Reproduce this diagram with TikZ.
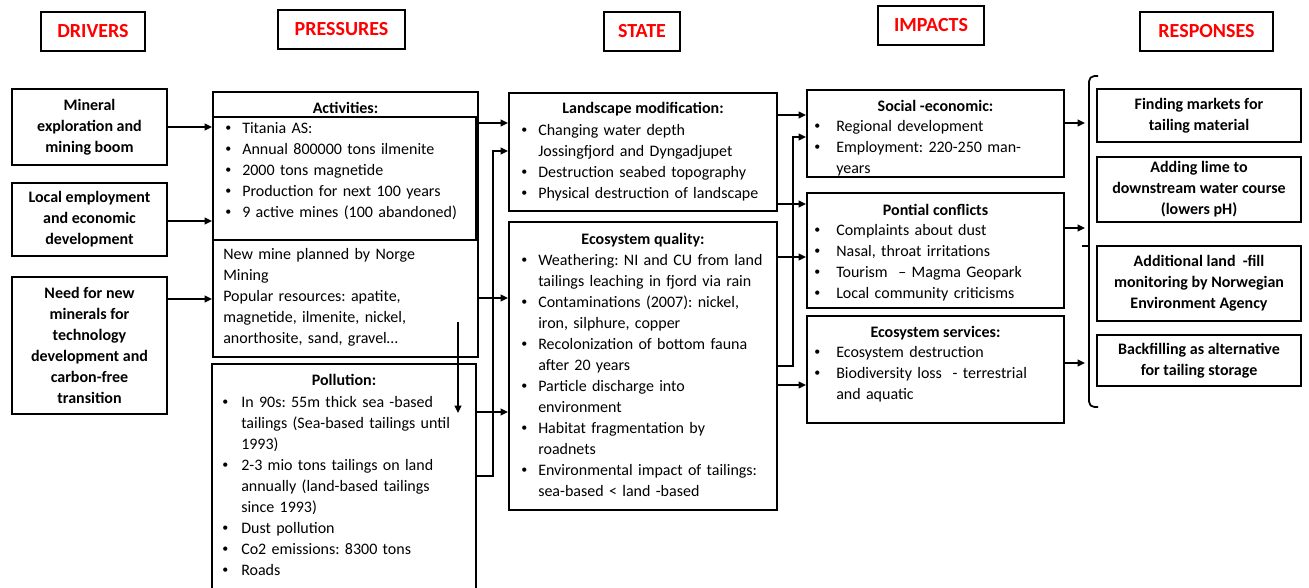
\documentclass[tikz,border=0pt]{standalone}
\usepackage{fontspec}
\setmainfont{Carlito}
\usetikzlibrary{arrows.meta}
\frenchspacing

% small bullet, and a bulleted line with a given hanging width, and a continuation line
\newcommand{\smallbul}{\raisebox{0.12em}{\fontsize{9}{9}\selectfont\textbullet}}
\newcommand{\bit}[2]{\noindent\makebox[#1][l]{\smallbul}#2\par}
\newcommand{\ctn}[2]{\noindent\hspace*{#1}#2\par}

\begin{document}
\begin{tikzpicture}[x=0.75pt,y=-0.75pt,
  box/.style={draw, line width=1.4pt, rectangle, inner sep=0pt},
  sz/.style 2 args={minimum width=#1*0.75pt, minimum height=#2*0.75pt},
  hdr/.style={box, line width=1.5pt, text=red, font=\fontsize{15}{18}\selectfont\bfseries},
  drv/.style={align=center, font=\fontsize{12}{15.75}\selectfont\bfseries},
  lst/.style={anchor=base west, inner sep=0pt, text width=#1*0.75pt, font=\fontsize{12}{15.75}\selectfont},
  ttl/.style={anchor=base, inner sep=0pt, font=\fontsize{12}{15.75}\selectfont\bfseries},
  arr/.style={line width=1.3pt, -{Triangle[length=5.5pt,width=5pt]}},
  ln/.style={line width=1.3pt}]

\useasboundingbox (0,0) rectangle (1309,587);
\clip (0,0) rectangle (1309,587);

% ---------- column headers ----------
\node[hdr, sz={104}{39}] (hD) at (93,31.5)    {DRIVERS};
\node[hdr, sz={127}{39}] (hP) at (341.5,29.5) {PRESSURES};
\node[hdr, sz={76}{39}]  (hS) at (642,31.5)   {STATE};
\node[hdr, sz={106}{39}] (hI) at (931,25.5)   {IMPACTS};
\node[hdr, sz={133}{39}] (hR) at (1206.5,31.5){RESPONSES};

% ---------- drivers ----------
\node[box, drv, sz={155}{76}]  (d1) at (89.5,127)   {Mineral\\exploration and\\mining boom};
\node[box, drv, sz={155}{73}]  (d2) at (89.5,219.5) {Local employment\\and economic\\development};
\node[box, drv, sz={155}{137}] (d3) at (89.5,345.5) {Need for new\\minerals for\\technology\\development and\\carbon-free\\transition};

% ---------- pressures ----------
\node[box, sz={265}{265}] (act) at (345.5,224.5) {};
\node[box, line width=2pt, sz={263}{123}] (actin) at (344.5,178.5) {};
\node[ttl] (actT) at (345.5,113) {Activities:};
\node[lst=250] (actL) at (225,133) {%
  \bit{12.75pt}{Titania AS:}%
  \bit{12.75pt}{Annual 800000 tons ilmenite}%
  \bit{12.75pt}{2000 tons magnetide}%
  \bit{12.75pt}{Production for next 100 years}%
  \bit{12.75pt}{9 active mines (100 abandoned)}};
\node[lst=250] (actM) at (223,259) {%
  \ctn{0pt}{New mine planned by Norge}%
  \ctn{0pt}{Mining}%
  \ctn{0pt}{Popular resources: apatite,}%
  \ctn{0pt}{magnetide, ilmenite, nickel,}%
  \ctn{0pt}{anorthosite, sand, gravel…}};

\node[box, sz={264}{256}] (pol) at (344,492) {};
\node[ttl] (polT) at (344,385) {Pollution:};
\node[lst=250] (polL) at (222,407) {%
  \bit{14.25pt}{In 90s: 55m thick sea -based}%
  \ctn{14.25pt}{tailings (Sea-based tailings until}%
  \ctn{14.25pt}{1993)}%
  \bit{14.25pt}{2-3 mio tons tailings on land}%
  \ctn{14.25pt}{annually (land-based tailings}%
  \ctn{14.25pt}{since 1993)}%
  \bit{14.25pt}{Dust pollution}%
  \bit{14.25pt}{Co2 emissions: 8300 tons}%
  \bit{14.25pt}{Roads}};

% ---------- state ----------
\node[box, sz={268}{118}] (land) at (643,152) {};
\node[ttl] (landT) at (643,113) {Landscape modification:};
\node[lst=250] (landL) at (521,135) {%
  \bit{12.75pt}{Changing water depth}%
  \ctn{12.75pt}{Jossingfjord and Dyngadjupet}%
  \bit{12.75pt}{Destruction seabed topography}%
  \bit{12.75pt}{Physical destruction of landscape}};

\node[box, sz={268}{288}] (eco) at (643,366) {};
\node[ttl] (ecoT) at (643,244) {Ecosystem quality:};
\node[lst=250] (ecoL) at (521,265) {%
  \bit{12.75pt}{Weathering: NI and CU from land}%
  \ctn{12.75pt}{tailings leaching in fjord via rain}%
  \bit{12.75pt}{Contaminations (2007): nickel,}%
  \ctn{12.75pt}{iron, silphure, copper}%
  \bit{12.75pt}{Recolonization of bottom fauna}%
  \ctn{12.75pt}{after 20 years}%
  \bit{12.75pt}{Particle discharge into}%
  \ctn{12.75pt}{environment}%
  \bit{12.75pt}{Habitat fragmentation\ by}%
  \ctn{12.75pt}{roadnets}%
  \bit{12.75pt}{Environmental impact of tailings:}%
  \ctn{12.75pt}{sea-based < land -based}};

% ---------- impacts ----------
\node[box, sz={257}{87}] (soc) at (935.5,133.5) {};
\node[ttl] (socT) at (935.5,111) {Social -economic:};
\node[lst=240] (socL) at (814,131) {%
  \bit{16.5pt}{Regional development}%
  \bit{16.5pt}{Employment: 220-250 man-}%
  \ctn{16.5pt}{years}};

\node[box, sz={257}{115}] (conf) at (935.5,250.5) {};
\node[ttl] (confT) at (935.5,215) {Pontial conflicts};
\node[lst=240] (confL) at (814,235) {%
  \bit{16.5pt}{Complaints about dust}%
  \bit{16.5pt}{Nasal, throat irritations}%
  \bit{16.5pt}{Tourism\ \ -- Magma Geopark}%
  \bit{16.5pt}{Local community criticisms}};

\node[box, sz={257}{107}] (ecs) at (935.5,369.5) {};
\node[ttl] (ecsT) at (935.5,337) {Ecosystem services:};
\node[lst=240] (ecsL) at (814,357) {%
  \bit{16.5pt}{Ecosystem destruction}%
  \bit{16.5pt}{Biodiversity loss\ \ - terrestrial}%
  \ctn{16.5pt}{and aquatic}};

% ---------- responses ----------
\node[box, drv, sz={204}{53}] (r1) at (1199,115.5) {Finding markets for\\tailing material};
\node[box, drv, sz={204}{65}] (r2) at (1199,189.5) {Adding lime to\\downstream water course\\(lowers pH)};
\node[box, drv, sz={204}{75}] (r3) at (1199,283.5) {Additional land\ \ -fill\\monitoring by Norwegian\\Environment Agency};
\node[box, drv, sz={204}{51}] (r4) at (1199,360.5) {Backfilling as alternative\\for tailing storage};

% bracket gathering the responses
\draw[ln, rounded corners=4pt] (1098,76) -- (1089,76) -- (1089,407) -- (1098,407);
\draw[ln] (1082,246) -- (1089,246);
\coordinate (brace) at (1085,246);

% ---------- connectors ----------
% drivers -> pressures
\draw[arr] (d1.east) -- (d1.east -| act.west);
\draw[arr] (d2.east |- 0,221) -- (act.west |- 0,221);
\draw[arr] (d3.east |- 0,299) -- (act.west |- 0,299);

% activities -> pollution
\coordinate (adn) at (458,322);
\coordinate (pdn) at (458,413);
\draw[arr] (adn) -- (pdn);

% pressures -> state
\draw[arr] (actin.east |- 0,123) -- (land.west |- 0,123);
\draw[arr] (pol.east |- 0,476) -- ++(16,0) |- (land.west |- 0,151);
\draw[arr] (act.east |- 0,298) -- (eco.west |- 0,298);
\draw[arr] (pol.east |- 0,412) -- (eco.west |- 0,412);

% state -> impacts
\draw[arr] (land.east |- 0,115) -- (soc.west |- 0,115);
\draw[arr] (eco.east |- 0,366) -- ++(15,0) |- (soc.west |- 0,137);
\draw[arr] (land.east |- 0,204) -- (conf.west |- 0,204);
\draw[arr] (eco.east |- 0,257) -- (conf.west |- 0,257);
\draw[arr] (eco.east |- 0,385) -- (ecs.west |- 0,385);

% impacts -> responses
\draw[arr] (soc.east |- 0,123) -- (brace |- 0,123);
\draw[arr] (conf.east |- 0,228) -- (brace |- 0,228);
\draw[arr] (ecs.east |- 0,363) -- (brace |- 0,363);

\end{tikzpicture}
\end{document}
